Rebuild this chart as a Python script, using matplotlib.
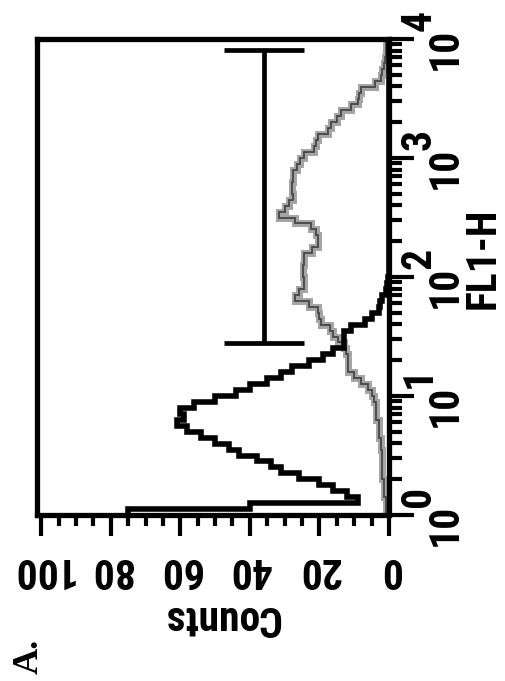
import matplotlib
matplotlib.use("Agg")
import matplotlib.pyplot as plt
import matplotlib.transforms as mtransforms
from matplotlib import font_manager as fm
import numpy as np

# ---------------- data ----------------
# histogram bins: log10(FL1-H) edges, 0.05 decade wide, 10^0 .. 10^4
bin_edges_log = [i * 0.05 for i in range(81)]

control_counts = [
    75, 40, 9, 12, 16, 20, 26, 31, 34, 38,
    43, 46, 50, 54, 58, 61, 59, 60, 56, 50,
    44, 40, 35, 31, 28, 23, 19, 16, 13, 13,
    13, 11, 7, 5, 3, 2.5, 2, 1, 0.6, 0.3,
    0, 0, 0, 0, 0, 0, 0, 0, 0, 0,
    0, 0, 0, 0, 0, 0, 0, 0, 0, 0,
    0, 0, 0, 0, 0, 0, 0, 0, 0, 0,
    0, 0, 0, 0, 0, 0, 0, 0, 0, 0,
]

stained_counts = [
    1, 1, 1, 1.4, 1.4, 1.4, 2, 2, 2, 2,
    2, 2.3, 2.3, 3, 3, 3, 3.7, 3.7, 3.7, 4.3,
    5, 6, 8, 10, 11.8, 11.8, 11.8, 12.5, 13, 14.7,
    16, 17, 19.6, 20, 20.5, 23, 27, 26, 24.5, 24.5,
    24.8, 24.8, 24.5, 24.5, 22, 20.5, 20.5, 21, 22.5, 27,
    31.7, 30, 28.8, 27.7, 28, 28, 27.7, 27.7, 26.5, 25.5,
    24.5, 21.6, 21, 20.5, 17.5, 16.7, 15, 13.8, 11, 9,
    8.5, 8, 4, 2.3, 2, 1.5, 1.2, 1, 1, 0.8,
]

gate_fl1 = [28, 8100]        # gate marker limits on FL1-H
gate_count_pos = 36          # counts position of the marker bar
gate_cap = [24.5, 47.5]      # extent of the cap bars (counts)

count_ticks = [0, 20, 40, 60, 80, 100]
count_labels = ["0", "20", "40", "60", "80", "100"]
decades = [0, 1, 2, 3, 4]

# ---------------- fonts ----------------
names = {f.name for f in fm.fontManager.ttflist}
if "Liberation Sans Narrow" in names:
    FONT = dict(family="Liberation Sans Narrow")
elif "Roboto Condensed" in names:
    FONT = dict(family="Roboto Condensed")
else:
    FONT = dict(family="DejaVu Sans", stretch="condensed")

# ---------------- figure ----------------
W, H = 505, 681
DPI = 100
fig = plt.figure(figsize=(W / DPI, H / DPI), dpi=DPI)
ax_l, ax_r, ax_t, ax_b = 37, 389, 39, 515
ax = fig.add_axes([ax_l / W, 1 - ax_b / H, (ax_r - ax_l) / W, (ax_b - ax_t) / H])

edges = 10 ** np.array(bin_edges_log)
ax.stairs(stained_counts, edges, orientation="horizontal", baseline=None,
          color="#a4a4a4", lw=5.0, zorder=2)
ax.stairs(stained_counts, edges, orientation="horizontal", baseline=None,
          color="#1e1e1e", lw=1.3, alpha=0.7, zorder=2)
ax.stairs(control_counts, edges, orientation="horizontal", baseline=None,
          color="black", lw=4.0, zorder=3)

# gate marker
ax.plot([gate_count_pos, gate_count_pos], gate_fl1, color="black", lw=3.4,
        solid_capstyle="butt", zorder=4)
for g in gate_fl1:
    ax.plot(gate_cap, [g, g], color="black", lw=3.4, solid_capstyle="butt", zorder=4)

ax.set_yscale("log")
ax.set_ylim(1, 1e4)
ax.set_xlim(101.2, 0)

for s in ax.spines.values():
    s.set_linewidth(3.8)
    s.set_color("black")

# counts axis (bottom) - ticks, labels drawn upside down as text
ax.set_xticks(count_ticks)
ax.set_xticks(np.arange(0, 101, 5), minor=True)
ax.tick_params(axis="x", which="major", direction="out", length=15, width=3,
               labelbottom=False)
ax.tick_params(axis="x", which="minor", direction="out", length=8, width=3,
               labelbottom=False)
tr_cnt = mtransforms.blended_transform_factory(ax.transData, ax.transAxes) + \
    mtransforms.ScaledTranslation(0, -54 / DPI, fig.dpi_scale_trans)
for v, lab in zip(count_ticks, count_labels):
    ax.text(v, 0, lab, transform=tr_cnt, rotation=180, ha="center", va="center",
            fontsize=30, fontweight="bold", **FONT)

# FL1-H axis (right)
ax.yaxis.tick_right()
ax.tick_params(axis="y", which="major", direction="out", length=18, width=3,
               labelright=False, labelleft=False)
ax.tick_params(axis="y", which="minor", direction="out", length=9, width=3,
               labelright=False, labelleft=False)
ax.yaxis.set_minor_locator(matplotlib.ticker.LogLocator(base=10, subs=np.arange(2, 10)))

base_tr = mtransforms.blended_transform_factory(ax.transAxes, ax.transData)
tr_body = base_tr + mtransforms.ScaledTranslation(56 / DPI, -10 / DPI, fig.dpi_scale_trans)
tr_exp = base_tr + mtransforms.ScaledTranslation(30 / DPI, 19 / DPI, fig.dpi_scale_trans)
for d in decades:
    ax.text(1, 10 ** d, "10", transform=tr_body, rotation=90, ha="center", va="center",
            fontsize=30, fontweight="bold", **FONT)
    ax.text(1, 10 ** d, str(d), transform=tr_exp, rotation=90, ha="center", va="center",
            fontsize=30, fontweight="bold", **FONT)

fig.text(483 / W, 1 - 258 / H, "FL1-H", rotation=90, ha="center", va="center",
         fontsize=30, fontweight="bold", **FONT)
fig.text(222 / W, 1 - 617 / H, "Counts", rotation=180, ha="center", va="center",
         fontsize=30, fontweight="bold", **FONT)
fig.text(29 / W, 1 - 656 / H, "A.", rotation=90, ha="center", va="center",
         fontsize=26, fontweight="bold", family="Liberation Serif")

fig.savefig("out.png", dpi=DPI)
